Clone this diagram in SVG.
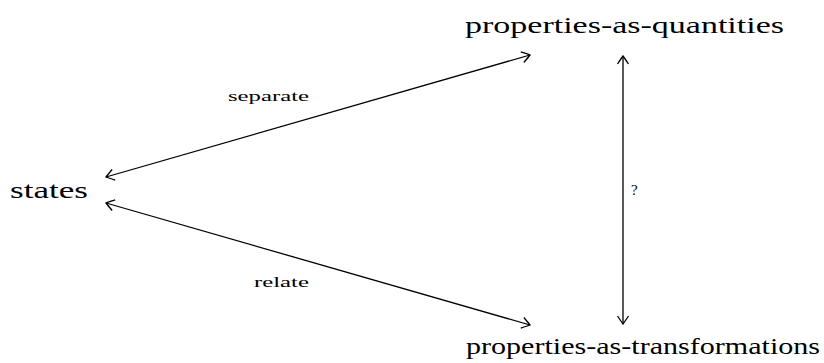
<svg xmlns="http://www.w3.org/2000/svg" width="824" height="363" viewBox="0 0 824 363">
<style>
text{font-family:'Liberation Serif','Times New Roman',serif;font-weight:normal;fill:#000}
.n{font-size:24px}
.l{font-size:15px}
.c{stroke:#000;stroke-width:1.3;fill:none;marker-start:url(#a);marker-end:url(#a)}
</style>
<defs>
<marker id="a" viewBox="-10 -7 12 14" refX="0" refY="0" markerWidth="12" markerHeight="14" markerUnits="userSpaceOnUse" orient="auto-start-reverse">
<path d="M-8,-5.5 Q-2,-1.5 0,0 Q-2,1.5 -8,5.5" stroke="#000" stroke-width="1.3" fill="none"/>
</marker>
</defs>
<rect width="824" height="363" fill="#fff"/>
<g id="connectors">
<line class="c" x1="106" y1="177" x2="530" y2="55"/>
<line class="c" x1="106" y1="203" x2="530" y2="325"/>
<line class="c" x1="623" y1="56" x2="623" y2="324"/>
</g>
<g id="labels">
<text class="l" x="228" y="101" textLength="81" lengthAdjust="spacingAndGlyphs">separate</text>
<text class="l" x="254" y="287" textLength="55" lengthAdjust="spacingAndGlyphs">relate</text>
<text class="l" x="631" y="195">?</text>
</g>
<g id="states"><text class="n" x="10" y="198" textLength="78" lengthAdjust="spacingAndGlyphs">states</text></g>
<g id="pq"><text class="n" x="465" y="33" textLength="319" lengthAdjust="spacingAndGlyphs">properties-as-quantities</text></g>
<g id="pt"><text class="n" x="466" y="354" textLength="354" lengthAdjust="spacingAndGlyphs">properties-as-transformations</text></g>
</svg>
